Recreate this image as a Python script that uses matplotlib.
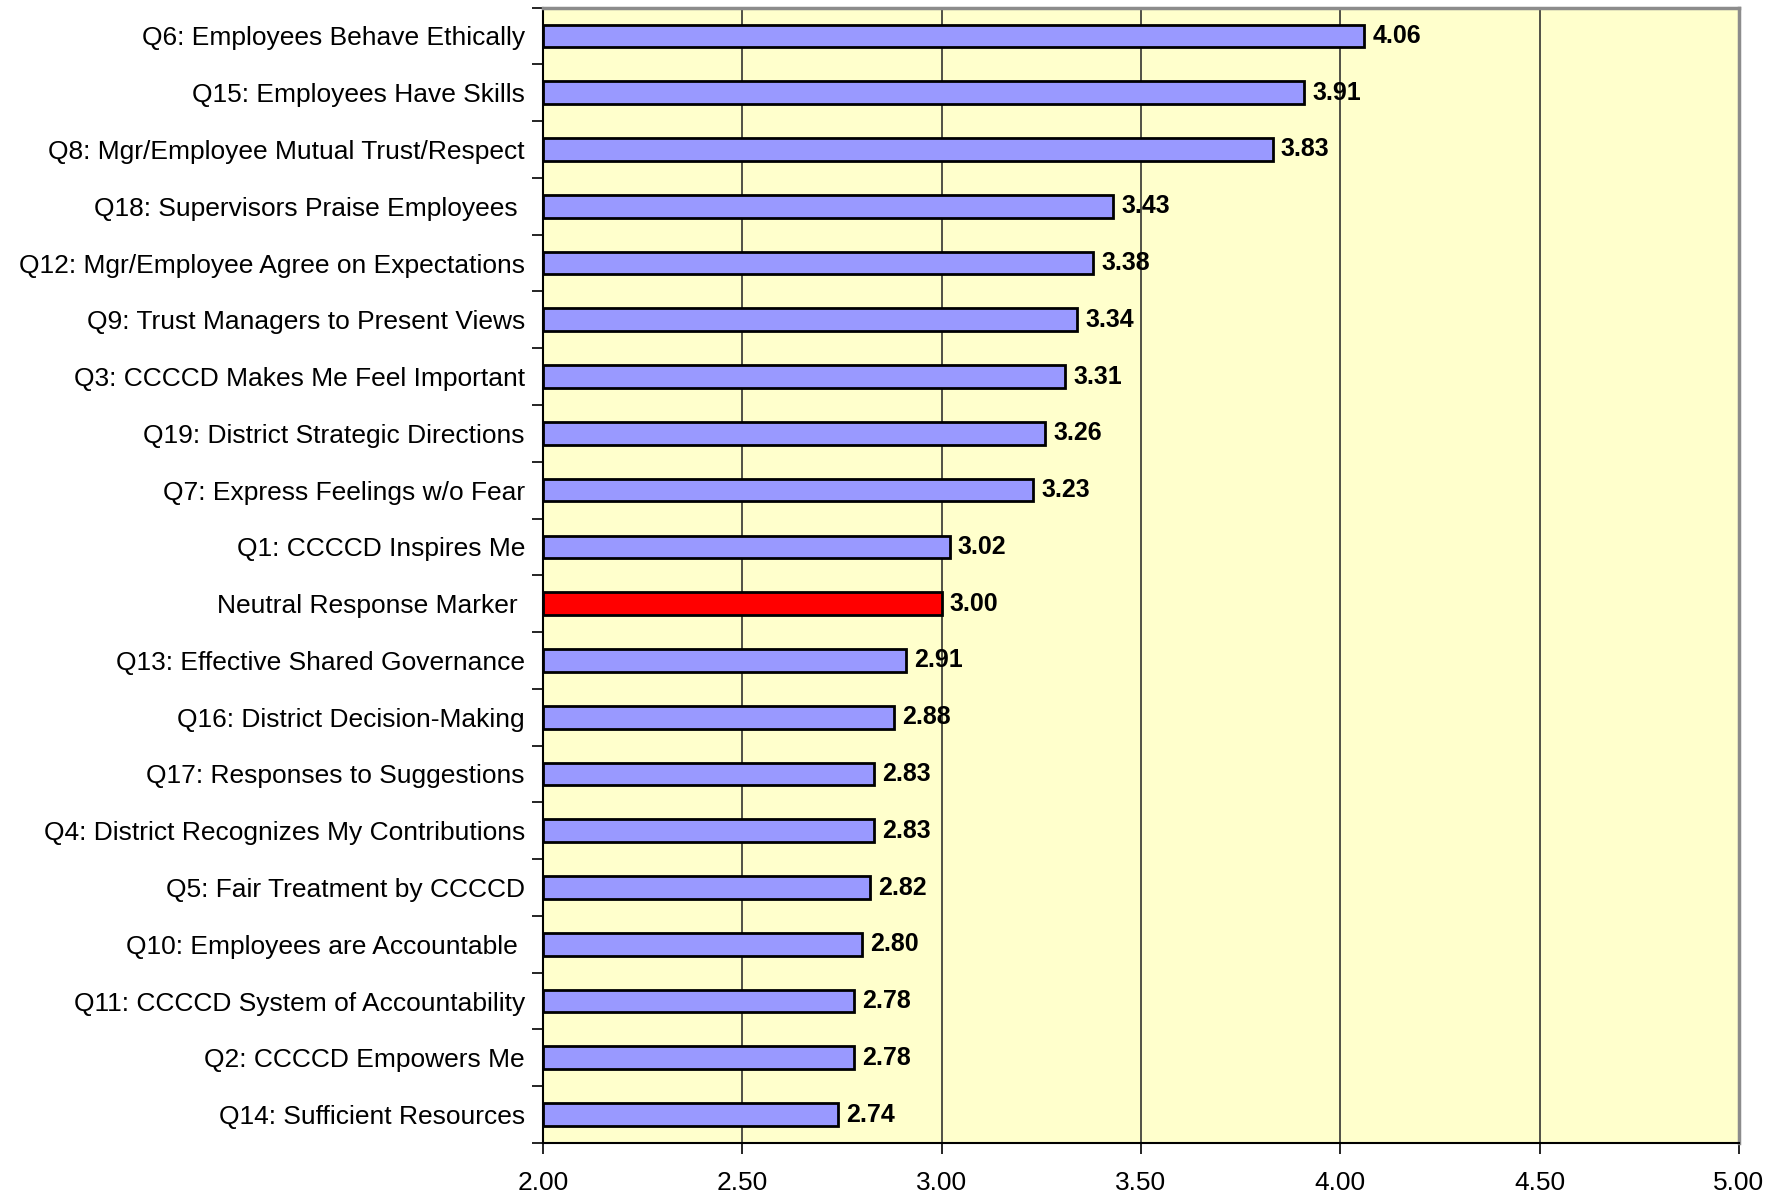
import numpy as np
import matplotlib.pyplot as plt

plt.rcParams["font.family"] = ["Liberation Sans", "DejaVu Sans"]

# survey items, top to bottom
questions = [
    "Q6: Employees Behave Ethically",
    "Q15: Employees Have Skills",
    "Q8: Mgr/Employee Mutual Trust/Respect",
    "Q18: Supervisors Praise Employees ",
    "Q12: Mgr/Employee Agree on Expectations",
    "Q9: Trust Managers to Present Views",
    "Q3: CCCCD Makes Me Feel Important",
    "Q19: District Strategic Directions",
    "Q7: Express Feelings w/o Fear",
    "Q1: CCCCD Inspires Me",
    "Neutral Response Marker ",
    "Q13: Effective Shared Governance",
    "Q16: District Decision-Making",
    "Q17: Responses to Suggestions",
    "Q4: District Recognizes My Contributions",
    "Q5: Fair Treatment by CCCCD",
    "Q10: Employees are Accountable ",
    "Q11: CCCCD System of Accountability",
    "Q2: CCCCD Empowers Me",
    "Q14: Sufficient Resources",
]
means = [4.06, 3.91, 3.83, 3.43, 3.38, 3.34, 3.31, 3.26, 3.23, 3.02,
         3.00, 2.91, 2.88, 2.83, 2.83, 2.82, 2.80, 2.78, 2.78, 2.74]
x_ticks = [2.0, 2.5, 3.0, 3.5, 4.0, 4.5, 5.0]

neutral_idx = questions.index("Neutral Response Marker ")
colors = ["#9999FF"] * len(questions)
colors[neutral_idx] = "#FF0000"

fig = plt.figure(figsize=(17.85, 11.97), dpi=100)
ax = fig.add_axes([0.3042, 0.0451, 0.9742 - 0.3042, 0.9937 - 0.0451])
ax.set_facecolor("#FFFFCC")

y = np.arange(len(questions))
base = x_ticks[0]
vals = np.array(means)
ax.barh(y, vals - base, left=base, height=0.4, color=colors,
        edgecolor="black", linewidth=2, zorder=3)

for yi, v in zip(y, means):
    ax.text(v + 0.02, yi, f"{v:.2f}", va="center", ha="left",
            fontsize=18, fontweight="bold", zorder=4)

ax.set_xlim(x_ticks[0], x_ticks[-1])
ax.set_ylim(len(questions) - 0.5, -0.5)
ax.set_xticks(x_ticks)
ax.set_xticklabels([f"{t:.2f}" for t in x_ticks], fontsize=19)
ax.tick_params(axis="x", direction="out", length=8, width=1.2, pad=12)

ax.set_yticks(y)
ax.set_yticklabels(questions, fontsize=19)
ax.tick_params(axis="y", which="major", length=0, pad=13)
ax.set_yticks(np.arange(-0.5, len(questions) + 0.5, 1), minor=True)
ax.tick_params(axis="y", which="minor", direction="out", length=8, width=1.2)

for gx in x_ticks[1:-1]:
    ax.axvline(gx, color="#222222", linewidth=1.1, zorder=1)

for side in ("left", "bottom"):
    ax.spines[side].set_color("black")
    ax.spines[side].set_linewidth(1.5)
for side in ("top", "right"):
    ax.spines[side].set_color("#8C8C8C")
    ax.spines[side].set_linewidth(2.5)

fig.savefig("out.png", dpi=100)
